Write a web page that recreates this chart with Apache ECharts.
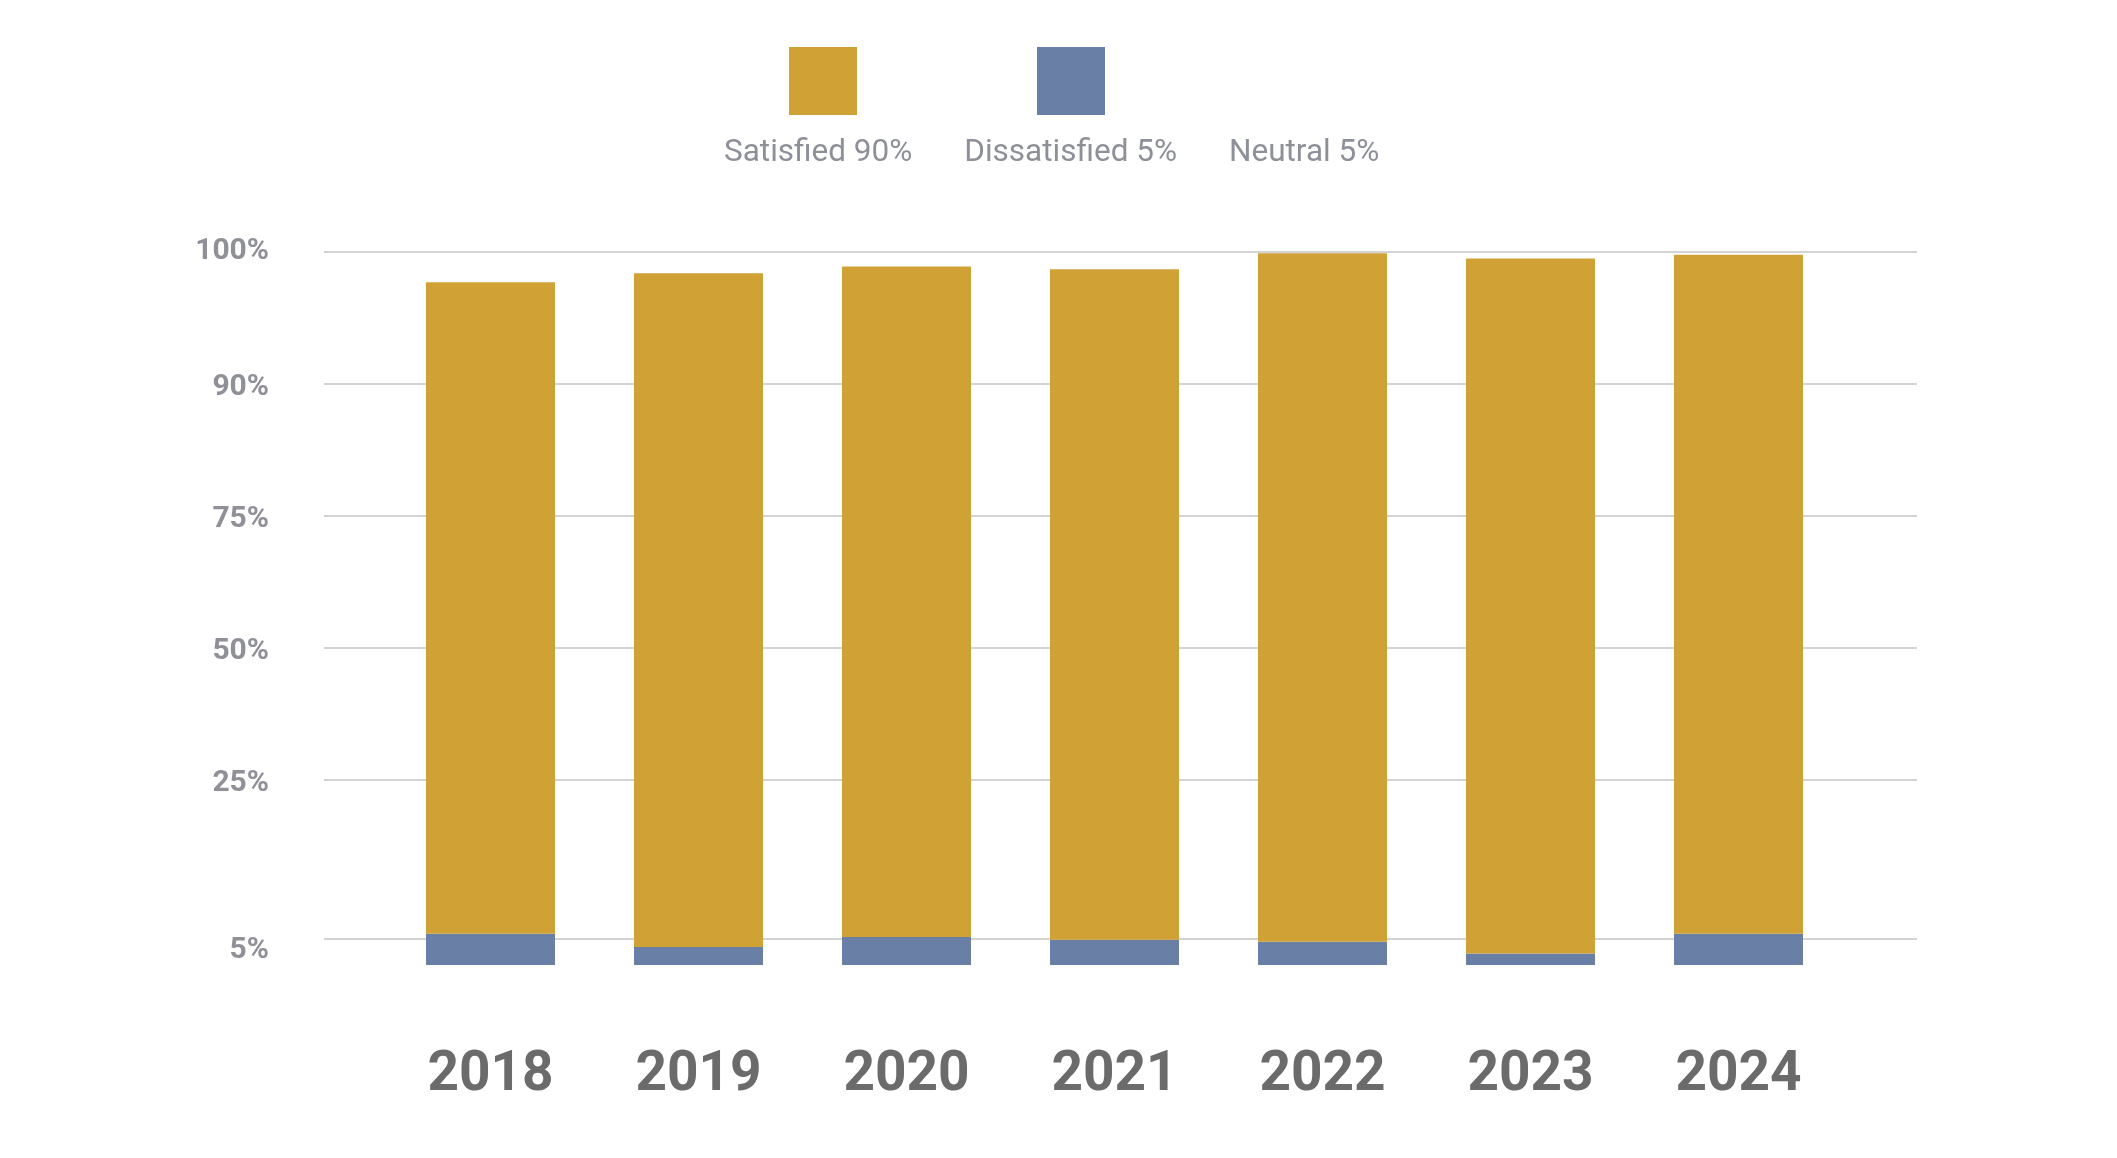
<!DOCTYPE html>
<html>
<head>
<meta charset="utf-8">
<script src="https://cdn.jsdelivr.net/npm/echarts@6/dist/echarts.min.js"></script>
<style>
html,body{margin:0;padding:0;background:#ffffff;}
#chart{width:2117px;height:1158px;}
</style>
</head>
<body>
<div id="chart"></div>
<script>
// ---- data ----
const years = ['2018', '2019', '2020', '2021', '2022', '2023', '2024'];
const dissatisfied = [5.6, 3.4, 5.2, 4.8, 4.4, 2.2, 5.6];
const satisfied = [92.1, 95.0, 93.7, 93.9, 95.5, 97.3, 94.2];
const neutral = [];
const seriesNames = ['Satisfied 90%', 'Dissatisfied 5%', 'Neutral 5%'];
const tickValues = [5, 25, 50, 75, 90, 100];
const tickLabels = ['5%', '25%', '50%', '75%', '90%', '100%'];
// piecewise axis scale (value -> axis position)
const knotValues = [0, 5, 25, 50, 75, 90, 100];
const knotPos = [0, 0.2, 1.4, 2.4, 3.4, 4.4, 5.4];

function toPos(v) {
  for (let i = 1; i < knotValues.length; i++) {
    if (v <= knotValues[i]) {
      const t = (v - knotValues[i - 1]) / (knotValues[i] - knotValues[i - 1]);
      return knotPos[i - 1] + t * (knotPos[i] - knotPos[i - 1]);
    }
  }
  return knotPos[knotPos.length - 1];
}
const tickPos = tickValues.map(toPos);
function labelFor(p) {
  let best = 0;
  for (let i = 0; i < tickPos.length; i++) {
    if (Math.abs(tickPos[i] - p) < Math.abs(tickPos[best] - p)) best = i;
  }
  return best;
}

const disPos = dissatisfied.map(toPos);
const satPos = satisfied.map((v, i) => toPos(dissatisfied[i] + v) - toPos(dissatisfied[i]));

const gold = '#D0A236';
const blue = '#6A7FA6';
const font = 'Roboto';
const yLabelColor = '#8F9098';

const chart = echarts.init(document.getElementById('chart'), null, {renderer: 'canvas'});
chart.setOption({
  backgroundColor: '#ffffff',
  animation: false,
  legend: [
    {
      data: seriesNames,
      left: 784, top: 42,
      itemWidth: 68, itemHeight: 68, itemGap: 180,
      icon: 'rect',
      formatter: () => '',
      selectedMode: false,
      textStyle: {fontSize: 1}
    },
    {
      data: seriesNames,
      left: 714, top: 132,
      itemWidth: 0, itemHeight: 32, itemGap: 47,
      icon: 'rect',
      selectedMode: false,
      textStyle: {fontFamily: font, fontSize: 31.5, color: '#8E9099'}
    }
  ],
  grid: [
    {left: 324, right: 200, top: 252, bottom: 193},
    {left: 386.5, right: 274.5, top: 252, bottom: 193}
  ],
  xAxis: [
    {type: 'category', gridIndex: 0, data: years, show: false},
    {
      type: 'category', gridIndex: 1, data: years,
      axisLine: {show: false}, axisTick: {show: false},
      axisLabel: {margin: 84, fontFamily: font, fontSize: 55, fontWeight: 'bold', color: '#6B6B6B'}
    }
  ],
  yAxis: [
    {
      type: 'value', gridIndex: 0, min: 0, max: 5.4,
      axisLine: {show: false},
      axisTick: {show: false, customValues: tickPos},
      splitLine: {show: true, lineStyle: {color: '#D3D3D3', width: 2}},
      axisLabel: {
        customValues: tickPos,
        margin: 55,
        formatter: (p) => {
          const i = labelFor(p);
          const key = i === 0 ? 'lo' : (i === tickPos.length - 1 ? 'hi' : 'n');
          return '{' + key + '|' + tickLabels[i] + '}';
        },
        rich: {
          n: {fontFamily: font, fontSize: 30, fontWeight: 'bold', color: yLabelColor, padding: [6, 0, 0, 0]},
          hi: {fontFamily: font, fontSize: 30, fontWeight: 'bold', color: yLabelColor, padding: [0, 0, 2, 0]},
          lo: {fontFamily: font, fontSize: 30, fontWeight: 'bold', color: yLabelColor, padding: [24, 0, 0, 0]}
        }
      }
    },
    {type: 'value', gridIndex: 1, min: 0, max: 5.4, show: false, splitLine: {show: false}}
  ],
  series: [
    {
      name: seriesNames[1], type: 'bar', stack: 'total',
      xAxisIndex: 1, yAxisIndex: 1, barWidth: 129,
      itemStyle: {color: blue}, data: disPos
    },
    {
      name: seriesNames[0], type: 'bar', stack: 'total',
      xAxisIndex: 1, yAxisIndex: 1, barWidth: 129,
      itemStyle: {color: gold}, data: satPos
    },
    {
      name: seriesNames[2], type: 'bar', stack: 'total',
      xAxisIndex: 1, yAxisIndex: 1, barWidth: 129,
      itemStyle: {color: '#FFFFFF'}, data: neutral
    }
  ]
});
</script>
</body>
</html>
